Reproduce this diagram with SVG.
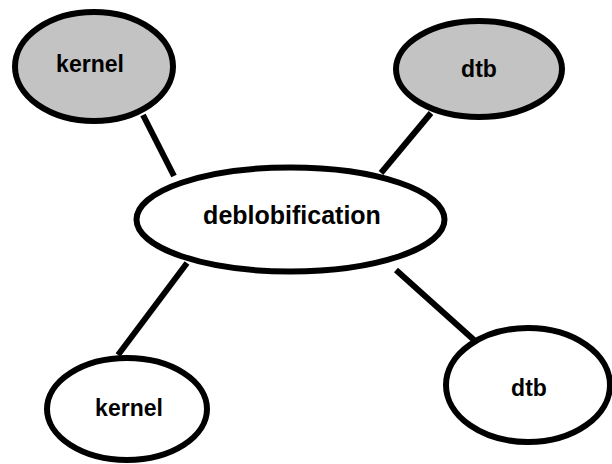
<svg xmlns="http://www.w3.org/2000/svg" width="612" height="464" viewBox="0 0 612 464">
<style>
.node ellipse{stroke:#000;stroke-width:6}
.shaded{fill:#c3c3c3}
.plain{fill:#fff}
.node text{font-family:"Liberation Sans",Arial,sans-serif;font-weight:bold;font-size:23px;fill:#000;text-anchor:middle}
.node text.big{font-size:25px}
#connectors line{stroke:#000;stroke-width:6;stroke-linecap:butt}
</style>
<rect width="612" height="464" fill="#fff"/>
<g id="connectors">
<line x1="143" y1="115" x2="174" y2="176"/>
<line x1="431" y1="113" x2="381" y2="173"/>
<line x1="187" y1="263" x2="118" y2="355"/>
<line x1="396" y1="270" x2="474" y2="340"/>
</g>
<g id="kernel-top" class="node">
<ellipse class="shaded" cx="94" cy="66.5" rx="79" ry="54.5"/>
<text x="90" y="72">kernel</text>
</g>
<g id="dtb-top" class="node">
<ellipse class="shaded" cx="479" cy="69" rx="83" ry="48"/>
<text x="479" y="77">dtb</text>
</g>
<g id="deblobification" class="node">
<ellipse class="plain" cx="290.5" cy="219.5" rx="154" ry="52"/>
<text class="big" x="292" y="224">deblobification</text>
</g>
<g id="kernel-bottom" class="node">
<ellipse class="plain" cx="127" cy="409" rx="80" ry="51"/>
<text x="129" y="416">kernel</text>
</g>
<g id="dtb-bottom" class="node">
<ellipse class="plain" cx="528" cy="385" rx="82" ry="57"/>
<text x="529" y="396">dtb</text>
</g>
</svg>
